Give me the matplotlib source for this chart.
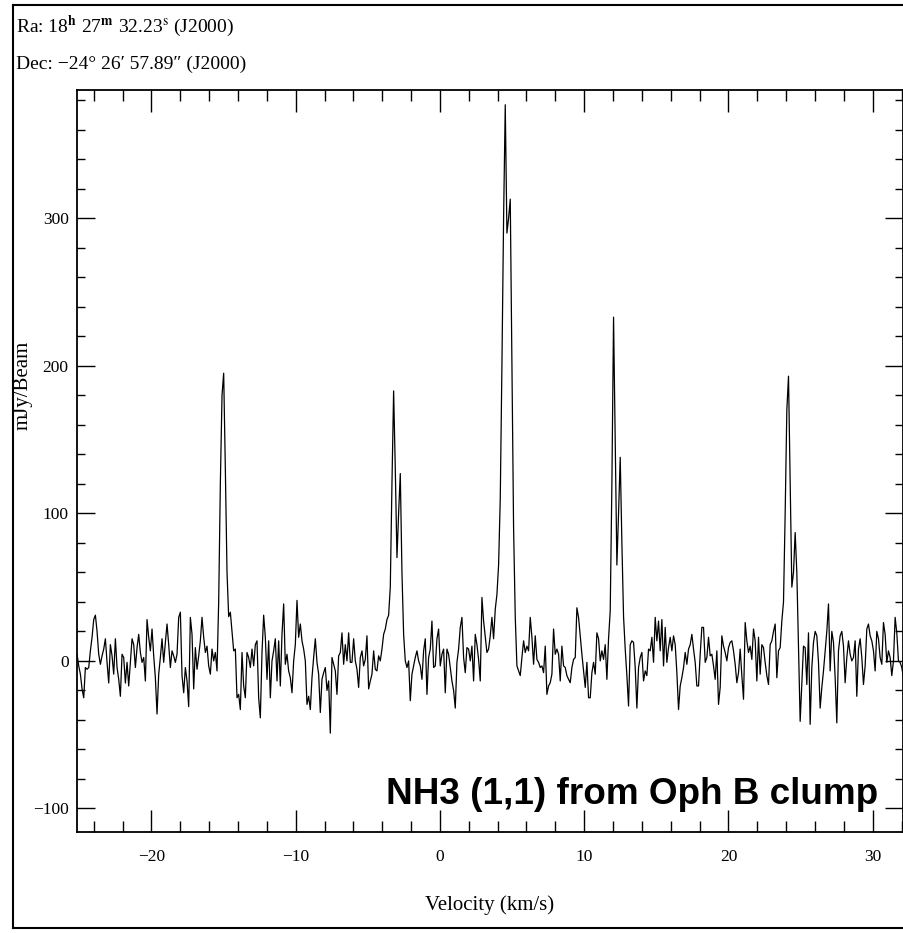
import numpy as np
import matplotlib
matplotlib.use("Agg")
import matplotlib.pyplot as plt
from matplotlib.ticker import MultipleLocator
from matplotlib.lines import Line2D

plt.rcParams['font.family'] = ['Liberation Serif', 'DejaVu Serif']
plt.rcParams['mathtext.fontset'] = 'stix'

# spectrum, one value per channel (mJy/Beam)
v_start = -25.156   # km/s, first channel
dv = 0.1155         # km/s, channel width

flux_a = [4.5, -3.4, -9, -19, -25, -4.5, -5.7, -4.5, 6.8, 16, 28, 31, 20, 4.5, -2.3, 3.4,
          8, 15, -1, -15, 11, 3.4, -9, 15, -4.5, -12.5, -24, 4.5, 2.3, -15, -1, -17,
          -1, 15, 11, -4.5, 9, 18, 5.7, -1, 2.3, -13.6, 28, 16, 6.8, 21.6, 3.4, -11.4,
          -36, -9, 2.3, 15, -1, 12.5, 25, 11, -4.5, 6.8, 3.4, -1, 4.5, 29.5, 33, -10,
          -21.6, -4.5, -13.6, -31, 29.5, 18, -19, 9, -5.7, 3.4, 13.6, 29.5, 16, 5.7, 10, -3.4,
          -9, 8, 0, 5.7, -6.8, 40, 120, 180, 195, 130, 60, 30, 33, 20, 6.8, 8,
          -25, -22.7, -33, 5.7, -17, -25, 5.7, 2.3, -4.5, 8, -3.4, 11, 13.6, -25, -38.6, 5.7,
          31, 16, -12.5, 13.6, -25, 0, 6.8, 15, -13.6, 13.6, -17, 18, 38.6, -2.3]

flux_b = [4.5, -6.8, -11.4, -21.6, 0, 11, 41, 16, 25, 13.6, 8, 0, -29.5, -24, -33, -11.4,
          2.3, 15, -1, -9, -35, -12.5, -8, -4.5, -20, -13.6, -49, 2.3, -2.3, -6.8, -22.7, 3.4,
          5.7, 19, -2.3, 11, 0, 19, -1, -1, 15, 0, -5.7, -18, 2.3, 6.8, -3.4, 1,
          17, -19, -13.6, -9, 6.8, -5.7, -6.8, 3.4, 0, 8, 18, 21.6, 28, 31, 50, 120,
          183, 130, 70, 100, 127, 60, 18, 0, -4.5, 0, -27, -9, -3.4, 2.3, 6.8, 0,
          -3.4, -12.5, 6.8, 15, -22.7, 2.3, 8, 27, -4.5, -3.4, 15, 21.6, -3.4, 4.5, 8, -21.6,
          8, 4.5, -4.5, -13.6, -20, -32, -1, 8, 22.7, 29.5, 2.3, -8, 9, 8, 0, 10,
          -13.6, 18, 11, 1, -13.6, 43, 27, 16, 5.7, 8, 17, 29.5, 15]

flux_c = [35, 45, 65, 110, 200, 300, 377, 290, 300, 313, 200, 90, 30, -3.4, -6.8, -10,
          2.3, 13.6, 5.7, 10, 6.8, 29.5, 16, -2.3, 17, 1, -1, -4.5, -3.4, -8, 10, -22.7,
          -17, -14.8, -9, 21.6, 4.5, 8, 4.5, -13.6, 10, -3.4, -4.5, -10, -12.5, -14.8, -4.5, 1,
          2.3, 36, 29.5, 17, 4.5, -6.8, -18, -1, -25, -25, -8, -1, -9, 19, 15, 0,
          6.8, 1, 11, -12.5, 15, 34, 120, 233, 150, 65, 100, 138, 80, 30, 8, -10,
          -30.6, 11, 13.6, 12.5, -4.5, -32, -4.5, 2.3, 5.7, -13.6, -6.8, -10, 8, 6.8, 16, -1,
          29.5, 13.6, 27, 6.8, 28, -3.4, 22.7, -1, 9, 16, 6.8, 17, 11, -8, -33, -17,
          -11.4, -4.5, 5.7, -2.3, 8, 11, 18, 8, -1, -17, -17, 4.5, 22.7]

flux_d = [22.7, -1, 2.3, 16, 3.4, 4.5, -3.4, -12.5, 6.8, -29.5, -18, 17, 10, 5.7, 0, 9,
          12.5, 13.6, 6.8, -2.3, -14.8, -8, 8, -10, -26, 26, 13.6, 5.7, 10, 1, 21.6, 13.6,
          -13.6, 16, -9, 11, 9, -1, -10, -16, 11, 13.6, 20, 25, -11.4, 6.8, 9, 27,
          40, 100, 170, 193, 120, 50, 60, 87, 60, 10, -41, -16, 10, 9, -16, 19,
          -43, -4.5, 12.5, 20, 17, -1, -32, -18, -6.8, 6.8, 20, 38.6, -6.8, 20, 12.5, -11.4,
          -42, 6.8, 17, 20, 10, -14.8, 2.3, 13.6, 4.5, 0, 2.3, 13.6, -24, 8, 15, 2.3,
          -16, -3.4, 21.6, 25, 17, 13.6, 6.8, -6.8, 20, 15, 2.3, -2.3, 26, 18, -1, 6.8,
          2.3, -10, 0, 29.5, 19, 0, -1, -4.5, -11.4, -18]

flux = np.array(flux_a + flux_b + flux_c + flux_d)
velocity = v_start + dv * np.arange(len(flux))

ra_text = r'Ra: 18$^{\mathbf{h}}$ 27$^{\mathbf{m}}$ 32.23$^{\mathrm{s}}$ (J2000)'
dec_text = u'Dec: \u221224\u00b0 26\u2032 57.89\u2033 (J2000)'
label_text = 'NH3 (1,1) from Oph B clump'

W, H = 904, 933
fig = plt.figure(figsize=(W / 100, H / 100), dpi=100)
ax = fig.add_axes([77 / W, 1 - 832 / H, (903 - 77) / W, (832 - 90) / H])

ax.plot(velocity, flux, color='black', lw=0.9)
ax.set_xlim(-25.16, 32.1)
ax.set_ylim(-116, 387)

ax.xaxis.set_major_locator(MultipleLocator(10))
ax.xaxis.set_minor_locator(MultipleLocator(2))
ax.yaxis.set_major_locator(MultipleLocator(100))
ax.yaxis.set_minor_locator(MultipleLocator(20))
ax.tick_params(which='both', direction='in', top=True, right=True, width=1.0,
               labelsize=12.5, colors='black')
ax.tick_params(axis='x', which='major', length=16, pad=12)
ax.tick_params(axis='x', which='minor', length=8)
ax.tick_params(axis='y', which='major', length=13, pad=6)
ax.tick_params(axis='y', which='minor', length=6)
for s in ax.spines.values():
    s.set_linewidth(1.3)

fig.text(23 / W, 1 - 385 / H, 'mJy/Beam', rotation=90, ha='center', va='center', fontsize=15)
fig.text(490 / W, 1 - 905 / H, 'Velocity (km/s)', ha='center', va='center', fontsize=15)
fig.text(16 / W, 1 - 26 / H, ra_text, ha='left', va='center', fontsize=14)
fig.text(16 / W, 1 - 64 / H, dec_text, ha='left', va='center', fontsize=14)
ax.text(0.970, 0.050, label_text, transform=ax.transAxes, ha='right', va='center',
        fontsize=26.6, fontweight='bold', family=['Liberation Sans', 'DejaVu Sans'])

# outer frame of the screenshot
for xs, ys in [((13, 13), (5, 928)), ((13, 904), (5, 5)), ((13, 904), (928, 928))]:
    fig.add_artist(Line2D([x / W for x in xs], [1 - y / H for y in ys],
                          color='black', lw=1.5))

fig.savefig('out.png', dpi=100)
